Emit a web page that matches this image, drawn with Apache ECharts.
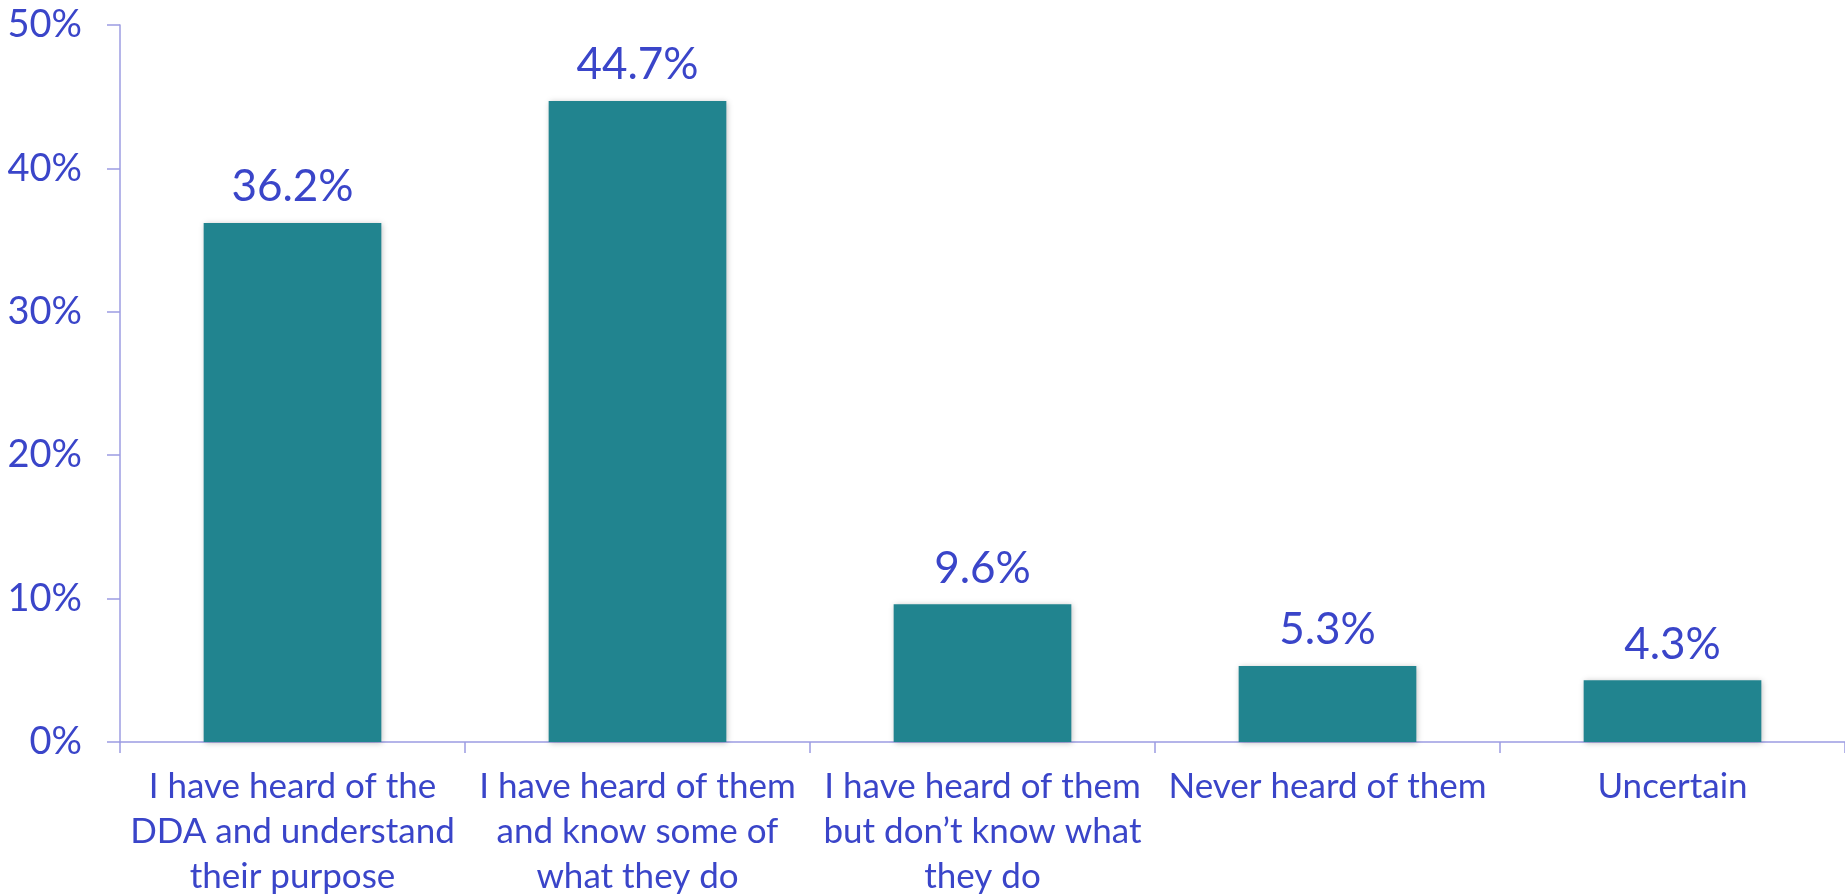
<!DOCTYPE html>
<html>
<head>
<meta charset="utf-8">
<script src="https://cdn.jsdelivr.net/npm/echarts@6/dist/echarts.min.js"></script>
<style>
html,body{margin:0;padding:0;background:#fff;}
#chart{width:1845px;height:895px;}
</style>
</head>
<body>
<div id="chart"></div>
<script>
const categories = [
  "I have heard of the\nDDA and understand\ntheir purpose",
  "I have heard of them\nand know some of\nwhat they do",
  "I have heard of them\nbut don\u2019t know what\nthey do",
  "Never heard of them",
  "Uncertain"
];
const values = [36.2, 44.7, 9.6, 5.3, 4.3];
const yMin = 0, yMax = 50, yStep = 10;

const textColor = '#3A45C9';
const axisColor = '#9C9CE2';
const barColor = '#21848F';
const fontFamily = 'Lato, "Open Sans", sans-serif';

const chart = echarts.init(document.getElementById('chart'));
chart.setOption({
  animation: false,
  grid: { left: 120, right: 0, top: 25, bottom: 153, containLabel: false, outerBoundsMode: 'none' },
  xAxis: {
    type: 'category',
    data: categories,
    axisLine: { show: true, lineStyle: { color: axisColor, width: 1.5 } },
    axisTick: { show: true, length: 11, alignWithLabel: false, lineStyle: { color: axisColor, width: 1.5 } },
    axisLabel: {
      interval: 0, color: textColor, fontFamily: fontFamily, fontSize: 35,
      lineHeight: 45, margin: 22
    }
  },
  yAxis: {
    type: 'value', min: yMin, max: yMax, interval: yStep,
    axisLine: { show: true, lineStyle: { color: axisColor, width: 1.5 } },
    axisTick: { show: true, length: 13, lineStyle: { color: axisColor, width: 1.5 } },
    splitLine: { show: false },
    axisLabel: {
      formatter: '{value}%', color: textColor, fontFamily: fontFamily, fontSize: 38, margin: 38
    }
  },
  series: [{
    type: 'bar',
    data: values,
    barWidth: '51.5%',
    itemStyle: {
      color: barColor,
      shadowColor: 'rgba(0,0,0,0.25)', shadowBlur: 6, shadowOffsetX: 1, shadowOffsetY: 1
    },
    label: {
      show: true, position: 'top', distance: 14,
      formatter: p => p.value.toFixed(1) + '%',
      color: textColor, fontFamily: fontFamily, fontSize: 44
    }
  }]
});
</script>
</body>
</html>
